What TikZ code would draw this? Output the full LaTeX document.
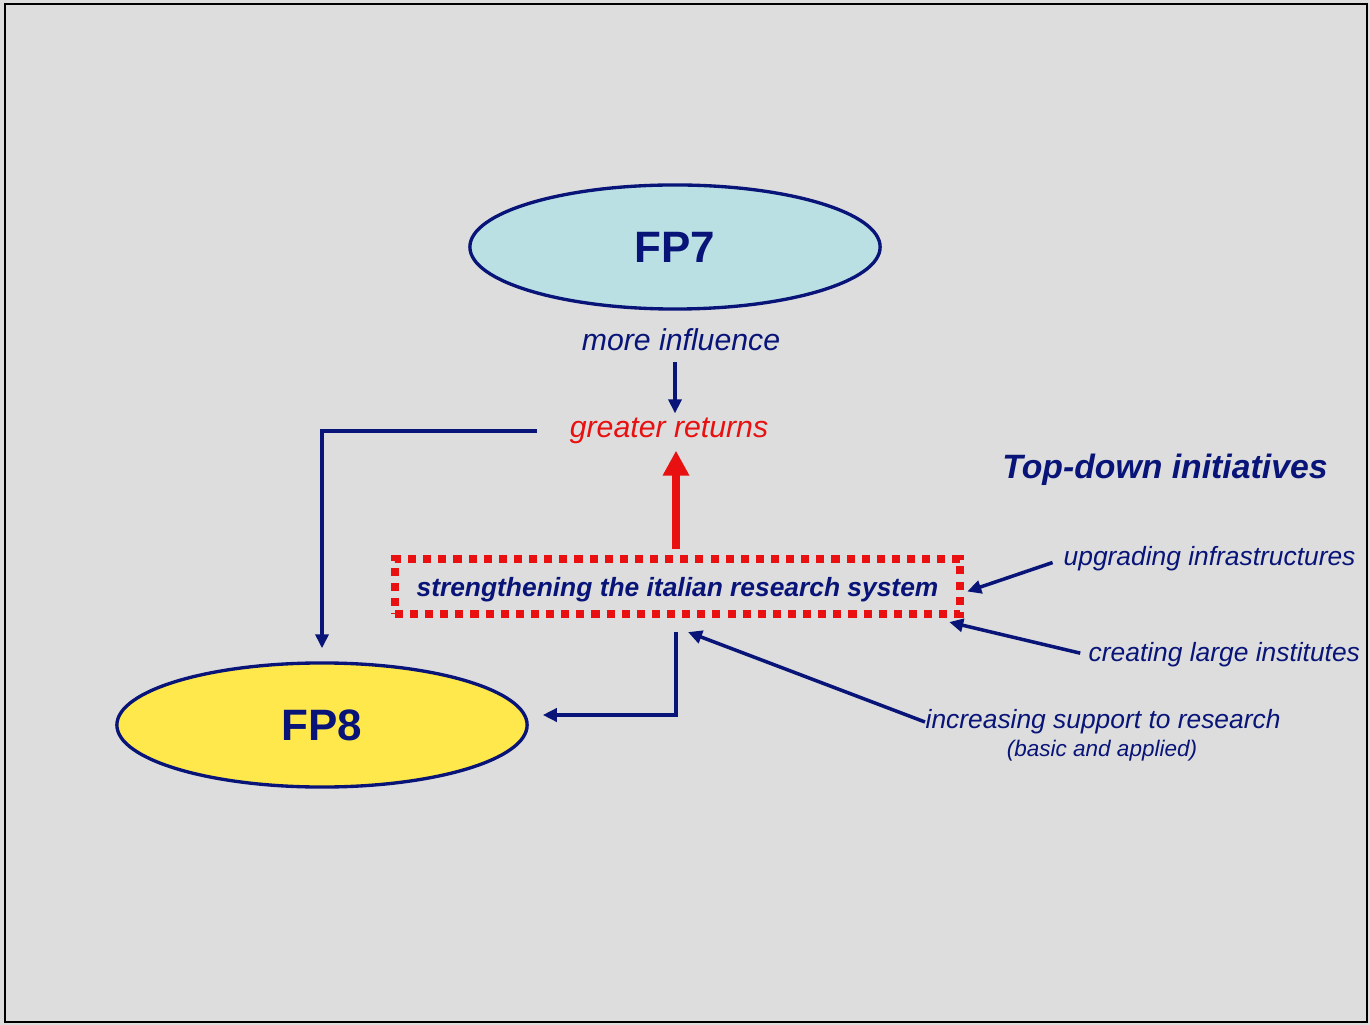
\documentclass[tikz,border=0pt]{standalone}
\usepackage{fontspec}
\setmainfont{Liberation Sans}
\usetikzlibrary{calc}
\usetikzlibrary{arrows.meta}
\usetikzlibrary{shapes.geometric}
\definecolor{slidebg}{HTML}{DDDDDD}
\definecolor{navy}{RGB}{8,20,120}
\definecolor{fpred}{RGB}{232,16,16}
\definecolor{fpcyan}{HTML}{BAE0E4}
\definecolor{fpyellow}{HTML}{FFE84C}
\begin{document}
\begin{tikzpicture}[x=0.01cm, y=-0.01cm,
  fp/.style={ellipse, draw=navy, line width=0.95pt, minimum width=4.1cm, minimum height=1.24cm, inner sep=0pt, text=navy, font=\fontsize{12.5}{15}\selectfont\bfseries},
  lbl/.style={inner sep=0pt, text=navy, font=\fontsize{7.5}{9}\selectfont\itshape},
  link/.style={draw=navy, line width=1pt, -{Triangle[length=0.14cm,width=0.13cm]}},
  boost/.style={draw=fpred, line width=2.3pt, -{Triangle[length=0.25cm,width=0.25cm]}}]
\fill[slidebg] (0,0) rectangle (1370,1025);
\draw[black, line width=0.8pt] (5,4) rectangle (1367,1022);
% the two programmes
\node[fp, fill=fpcyan] (fp7) at (675,247) {FP7};
\node[fp, fill=fpyellow] (fp8) at (322,725) {FP8};
\node[lbl, font=\fontsize{8.6}{10}\selectfont\itshape] (infl) at (681,340) {more influence};
\node[lbl, text=fpred, font=\fontsize{8.6}{10}\selectfont\itshape] (ret) at (669,431) {greater returns};
\node[draw=fpred, line width=2.3pt, dash pattern=on 2.3pt off 2pt, minimum width=5.65cm, minimum height=0.55cm, text depth=0pt, text=navy, font=\fontsize{7.5}{9}\selectfont\bfseries\itshape] (sys) at (677.5,586.5) {strengthening the italian research system};
% initiatives
\node[lbl, font=\fontsize{9.6}{11}\selectfont\bfseries\itshape] (topdown) at (1165,470) {Top-down initiatives};
\node[lbl, anchor=west] (infra) at (1063,559) {upgrading infrastructures};
\node[lbl, anchor=west] (inst) at (1088,655) {creating large institutes};
\node[lbl, anchor=west] (supp) at (925,722) {increasing support to research};
\node[lbl, font=\fontsize{6.4}{8}\selectfont\itshape] (basic) at (1102,751) {(basic and applied)};
% connectors
\draw[link, shorten <=0.1cm, shorten >=0.04cm] (infl.south -| fp7.south) -- (ret.north -| fp7.south);
\draw[link, shorten <=0.32cm] (ret.west) -| ($(fp8.north)+(0,-13)$);
\draw[boost] ($(sys.north)+(-1.5,-6)$) -- ($(sys.north |- ret.south)+(-1.5,6)$);
\draw[link] ($(sys.south)+(-1.5,14)$) |- ($(fp8.east)+(14,-10)$);
\draw[link, shorten <=0.11cm] (infra.west) -- ($(sys.east)+(3,5)$);
\draw[link, shorten <=0.08cm] (inst.west) -- ($(sys.south east)+(-15,4)$);
\draw[link] (supp.west) -- ($(sys.south)+(10.5,14)$);
\end{tikzpicture}
\end{document}
